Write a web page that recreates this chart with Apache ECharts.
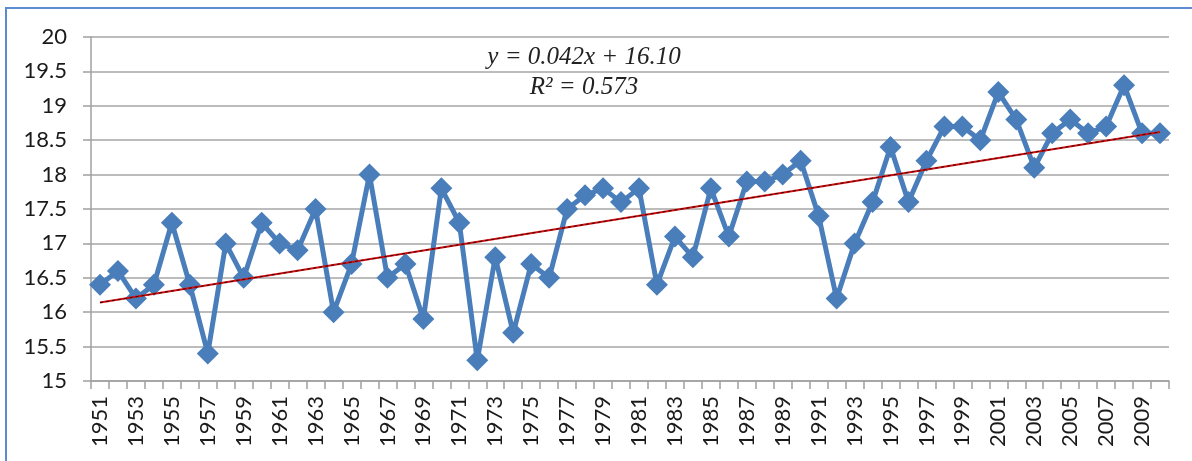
<!DOCTYPE html>
<html><head><meta charset="utf-8">
<script src="https://cdn.jsdelivr.net/npm/echarts@6/dist/echarts.min.js"></script>
<style>html,body{margin:0;padding:0;background:#fff;}#c{width:1192px;height:461px;}</style>
</head><body><div id="c"></div>
<script>
var years = [];
for (var y = 1951; y <= 2010; y++) years.push(String(y));
var temps = [16.4,16.6,16.2,16.4,17.3,16.4,15.4,17.0,16.5,17.3,
             17.0,16.9,17.5,16.0,16.7,18.0,16.5,16.7,15.9,17.8,
             17.3,15.3,16.8,15.7,16.7,16.5,17.5,17.7,17.8,17.6,
             17.8,16.4,17.1,16.8,17.8,17.1,17.9,17.9,18.0,18.2,
             17.4,16.2,17.0,17.6,18.4,17.6,18.2,18.7,18.7,18.5,
             19.2,18.8,18.1,18.6,18.8,18.6,18.7,19.3,18.6,18.6];
var trendEnds = [16.14, 18.62];
var equationText = 'y = 0.042x + 16.10';
var r2Text = 'R\u00B2 = 0.573';

var chart = echarts.init(document.getElementById('c'));
var trendData = [[years[0], trendEnds[0]], [years[years.length-1], trendEnds[1]]];
chart.setOption({
  animation: false,
  grid: {left: 91, right: 23, top: 37, bottom: 80},
  graphic: [
    {type: 'rect', shape: {x: 6, y: 8, width: 1300, height: 600},
     style: {fill: 'none', stroke: '#5B8BD0', lineWidth: 2}},
    {type: 'text', x: 584, y: 57, style: {text: equationText, font: 'italic 25px "Liberation Serif"', fill: '#222', textAlign: 'center', textVerticalAlign: 'middle'}},
    {type: 'text', x: 584, y: 87, style: {text: r2Text, font: 'italic 25px "Liberation Serif"', fill: '#222', textAlign: 'center', textVerticalAlign: 'middle'}}
  ],
  xAxis: {
    type: 'category', data: years, boundaryGap: true,
    axisLine: {lineStyle: {color: '#A0A0A0', width: 1.5}},
    axisTick: {show: true, interval: 0, length: 8, lineStyle: {color: '#A0A0A0', width: 1.5}},
    axisLabel: {interval: 1, rotate: 90, fontFamily: 'Lato', fontSize: 22, color: '#1a1a1a', margin: 15}
  },
  yAxis: {
    type: 'value', min: 15, max: 20, interval: 0.5,
    axisLine: {show: true, lineStyle: {color: '#A0A0A0', width: 1.5}},
    axisTick: {show: true, length: 8, lineStyle: {color: '#A0A0A0', width: 1.5}},
    axisLabel: {fontFamily: 'Lato', fontSize: 22, color: '#1a1a1a', margin: 24},
    splitLine: {lineStyle: {color: '#A6A6A6', width: 1.5}}
  },
  series: [
    {type: 'line', data: temps, symbol: 'diamond', symbolSize: 22, showAllSymbol: true,
     lineStyle: {color: '#4A7EBB', width: 5}, itemStyle: {color: '#4A7EBB'}, z: 2},
    {type: 'line', data: trendData, symbol: 'none', lineStyle: {color: '#D01010', width: 2}, z: 3},
    {type: 'line', data: trendData, symbol: 'none', lineStyle: {color: '#3a0000', width: 1, type: [3, 3]}, z: 4}
  ]
});
</script></body></html>
